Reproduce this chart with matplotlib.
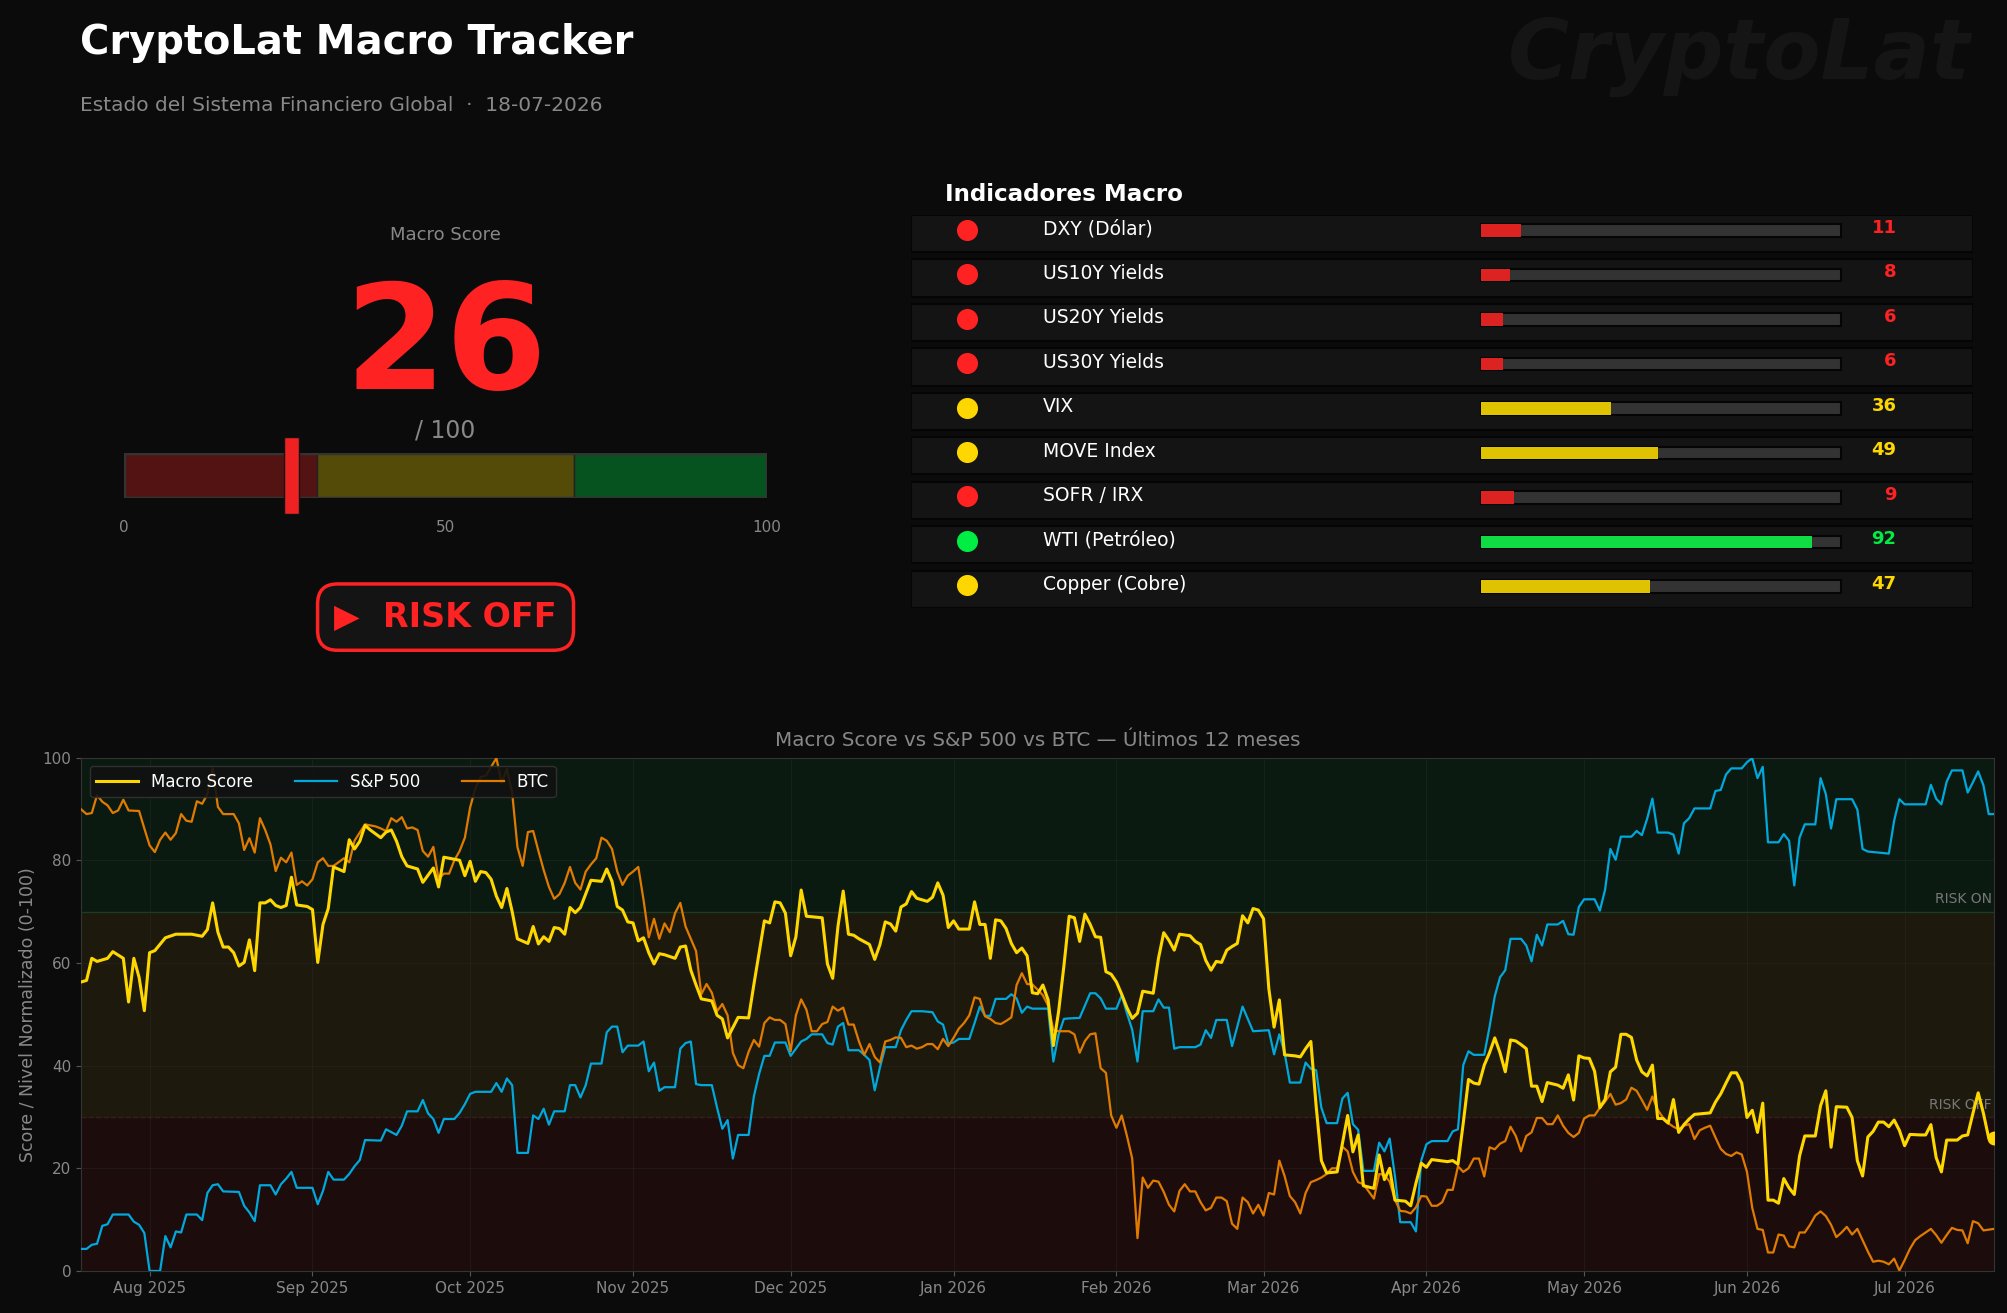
import matplotlib
matplotlib.use('Agg')
import matplotlib.pyplot as plt
import matplotlib.dates as mdates
from matplotlib.patches import Rectangle
import matplotlib.transforms as mtransforms
import pandas as pd

# ---- data ----
start_date = '2025-07-19'
end_date = '2026-07-18'
report_date = '18-07-2026'
macro_score = 26

ind_names = ['DXY (Dólar)', 'US10Y Yields', 'US20Y Yields', 'US30Y Yields', 'VIX',
             'MOVE Index', 'SOFR / IRX', 'WTI (Petróleo)', 'Copper (Cobre)']
ind_values = [11, 8, 6, 6, 36, 49, 9, 92, 47]

# (day since start, value)
macro_pts = [
    (0, 56.3), (1, 56.6), (2, 60.9), (3, 60.3), (5, 60.9), (6, 62.2), (8, 60.9), (9, 52.4), (10, 60.9),
    (11, 57.2), (12, 50.7), (13, 62.0), (14, 62.4), (16, 64.9), (18, 65.6), (21, 65.6), (23, 65.2),
    (24, 66.5), (25, 71.7), (26, 66.0), (27, 63.1), (28, 63.1), (29, 62.0), (30, 59.4), (31, 60.1),
    (32, 64.5), (33, 58.5), (34, 71.7), (35, 71.7), (36, 72.3), (37, 71.2), (38, 70.8), (39, 71.2),
    (40, 76.7), (41, 71.3), (43, 71.0), (44, 70.4), (45, 60.1), (46, 67.5), (47, 70.6), (48, 78.7),
    (50, 77.8), (51, 84.0), (52, 82.2), (53, 83.7), (54, 86.8), (55, 85.9), (57, 84.4), (58, 85.5),
    (59, 85.9), (60, 83.7), (61, 80.7), (62, 78.9), (64, 78.3), (65, 75.7), (67, 78.5), (68, 74.8),
    (69, 80.6), (72, 80.0), (73, 77.0), (74, 79.8), (75, 75.9), (76, 77.8), (77, 77.6), (78, 76.3),
    (79, 73.0), (80, 70.8), (81, 74.5), (82, 70.0), (83, 64.7), (85, 63.8), (86, 67.1), (87, 63.7),
    (88, 65.1), (89, 64.2), (90, 66.9), (91, 66.7), (92, 65.6), (93, 70.8), (94, 69.8), (95, 70.8),
    (97, 76.1), (99, 75.9), (100, 78.3), (101, 75.9), (102, 71.0), (103, 70.3), (104, 68.0), (105, 67.8),
    (106, 64.3), (107, 64.9), (108, 62.0), (109, 59.8), (110, 61.8), (111, 61.6), (113, 60.9), (114, 63.1),
    (115, 63.3), (116, 58.6), (117, 55.7), (118, 53.0), (120, 52.6), (121, 49.8), (122, 49.1), (123, 45.4),
    (125, 49.4), (127, 49.3), (128, 55.8), (130, 68.2), (131, 67.8), (132, 71.9), (133, 71.7), (134, 69.7),
    (135, 61.4), (136, 65.1), (137, 74.2), (138, 69.1), (141, 68.8), (142, 59.8), (143, 57.0), (144, 67.1),
    (145, 74.0), (146, 65.6), (147, 65.4), (148, 64.7), (150, 63.6), (151, 60.7), (152, 63.6), (153, 68.0),
    (154, 67.6), (155, 66.2), (156, 70.9), (157, 71.5), (158, 73.9), (159, 72.6), (161, 72.0), (162, 72.8),
    (163, 75.6), (164, 73.2), (165, 66.9), (166, 68.2), (167, 66.6), (169, 66.6), (170, 71.9), (171, 67.5),
    (172, 67.5), (173, 60.9), (174, 68.4), (175, 68.2), (176, 66.7), (177, 63.8), (178, 62.0), (179, 62.9),
    (180, 61.4), (181, 54.2), (182, 54.0), (183, 55.7), (184, 52.8), (185, 43.9), (186, 50.6), (187, 59.4),
    (188, 69.1), (189, 68.8), (190, 64.2), (191, 69.5), (192, 67.5), (193, 65.1), (194, 65.0), (195, 58.3),
    (196, 57.8), (197, 56.3), (198, 53.9), (199, 51.3), (200, 49.2), (201, 50.2), (202, 54.5), (204, 54.1),
    (205, 60.9), (206, 65.9), (207, 64.4), (208, 62.5), (209, 65.6), (211, 65.3), (212, 64.2), (213, 63.6),
    (214, 60.5), (215, 58.6), (216, 60.3), (217, 60.1), (218, 62.5), (219, 63.2), (220, 63.8), (221, 69.2),
    (222, 67.8), (223, 70.6), (224, 70.3), (225, 68.6), (226, 55.0), (227, 47.5), (228, 52.8), (229, 42.1),
    (231, 41.9), (232, 41.7), (233, 43.3), (234, 44.7), (235, 32.2), (236, 21.5), (237, 19.1), (239, 19.3),
    (240, 24.8), (241, 30.3), (242, 23.2), (243, 26.5), (244, 16.6), (246, 16.1), (247, 22.6), (248, 17.8),
    (249, 20.0), (250, 13.8), (252, 13.6), (253, 12.7), (254, 17.1), (255, 21.0), (256, 20.2), (257, 21.7),
    (260, 21.3), (261, 21.5), (262, 20.8), (263, 28.8), (264, 37.3), (265, 36.6), (266, 36.4), (267, 40.1),
    (268, 42.5), (269, 45.4), (270, 42.5), (271, 38.8), (272, 45.0), (273, 44.8), (274, 44.1), (275, 43.3),
    (276, 36.0), (277, 36.0), (278, 33.0), (279, 36.7), (281, 36.2), (282, 35.6), (283, 38.2), (284, 33.3),
    (285, 41.9), (286, 41.5), (287, 41.4), (288, 38.9), (289, 31.8), (290, 33.4), (291, 38.8), (292, 39.7),
    (293, 46.1), (294, 46.1), (295, 45.5), (296, 41.1), (297, 38.8), (298, 38.0), (299, 40.1), (300, 29.7),
    (301, 29.7), (302, 28.8), (303, 33.4), (304, 27.0), (305, 28.5), (306, 29.6), (307, 30.5), (309, 30.7),
    (310, 30.8), (311, 32.9), (312, 34.5), (313, 36.6), (314, 38.6), (315, 38.6), (316, 36.6), (317, 29.9),
    (318, 31.3), (319, 27.0), (320, 32.7), (321, 13.8), (322, 13.8), (323, 13.2), (324, 18.0), (325, 16.2),
    (326, 14.9), (327, 22.4), (328, 26.3), (330, 26.3), (331, 32.2), (332, 35.1), (333, 24.1), (334, 32.0),
    (336, 31.9), (337, 29.9), (338, 21.5), (339, 18.5), (340, 26.1), (341, 27.2), (342, 29.0), (343, 29.0),
    (344, 28.1), (345, 29.4), (346, 27.4), (347, 24.4), (348, 26.6), (350, 26.5), (351, 26.5), (352, 28.5),
    (353, 22.1), (354, 19.3), (355, 25.5), (357, 25.5), (358, 26.3), (359, 26.5), (360, 30.7), (361, 34.7),
    (362, 30.7), (363, 25.9), (364, 26.0),
]

spx_pts = [
    (0, 4.3), (1, 4.3), (2, 5.1), (3, 5.3), (4, 8.8), (5, 9.1), (6, 11.0), (9, 11.0), (10, 9.6), (11, 9.0),
    (12, 7.4), (13, 0.0), (15, 0.0), (16, 6.8), (17, 4.6), (18, 7.7), (19, 7.5), (20, 11.0), (22, 11.0),
    (23, 9.9), (24, 15.2), (25, 16.7), (26, 16.9), (27, 15.5), (30, 15.4), (31, 12.7), (32, 11.4), (33, 9.7),
    (34, 16.7), (36, 16.7), (37, 14.9), (38, 16.9), (39, 18.0), (40, 19.3), (41, 16.2), (44, 16.2), (45, 13.0),
    (46, 15.6), (47, 19.3), (48, 17.8), (50, 17.8), (51, 18.9), (52, 20.4), (53, 21.6), (54, 25.5), (57, 25.4),
    (58, 27.6), (60, 26.5), (61, 28.3), (62, 31.1), (64, 31.1), (65, 33.3), (66, 30.7), (67, 29.6), (68, 26.9),
    (69, 29.6), (71, 29.6), (72, 30.8), (73, 32.5), (74, 34.5), (75, 34.9), (78, 34.9), (79, 36.6), (80, 34.9),
    (81, 37.5), (82, 36.2), (83, 23.0), (85, 23.0), (86, 30.3), (87, 29.6), (88, 31.6), (89, 28.5), (90, 31.1),
    (92, 31.1), (93, 36.2), (94, 36.2), (95, 33.8), (96, 36.2), (97, 40.4), (99, 40.4), (100, 46.5), (101, 47.6),
    (102, 47.6), (103, 42.6), (104, 43.9), (106, 43.9), (107, 44.7), (108, 38.9), (109, 40.6), (110, 35.1),
    (111, 35.8), (113, 35.8), (114, 43.3), (115, 44.4), (116, 44.7), (117, 36.4), (118, 36.2), (120, 36.2),
    (121, 31.8), (122, 27.7), (123, 29.4), (124, 21.9), (125, 26.5), (127, 26.5), (128, 34.0), (129, 38.4),
    (130, 41.9), (131, 41.9), (132, 44.5), (134, 44.5), (135, 41.9), (137, 44.7), (138, 45.2), (139, 46.1),
    (141, 46.1), (142, 44.4), (143, 44.1), (144, 47.6), (145, 48.3), (146, 43.0), (148, 43.0), (149, 42.1),
    (150, 41.1), (151, 35.2), (152, 39.7), (153, 43.6), (155, 43.6), (156, 46.9), (157, 48.9), (158, 50.6),
    (160, 50.6), (162, 50.4), (163, 48.6), (164, 48.0), (165, 44.3), (166, 44.5), (167, 45.2), (169, 45.2),
    (170, 48.3), (171, 51.5), (172, 49.7), (173, 49.7), (174, 53.0), (176, 53.0), (177, 53.9), (178, 53.1),
    (179, 50.3), (180, 51.5), (181, 51.1), (184, 51.1), (185, 40.8), (186, 46.1), (187, 49.1), (188, 49.2),
    (190, 49.3), (191, 51.7), (192, 54.1), (193, 54.1), (194, 53.1), (195, 51.1), (197, 51.1), (198, 53.7),
    (199, 50.2), (200, 47.0), (201, 40.8), (202, 50.6), (204, 50.6), (205, 52.9), (206, 51.3), (207, 51.3),
    (208, 43.3), (209, 43.6), (212, 43.6), (213, 44.1), (214, 46.9), (215, 45.4), (216, 48.9), (218, 48.9),
    (219, 43.8), (220, 47.6), (221, 51.5), (222, 49.1), (223, 46.7), (226, 46.9), (227, 42.2), (228, 46.1),
    (229, 42.5), (230, 36.7), (232, 36.7), (233, 40.6), (234, 39.4), (235, 39.1), (236, 31.8), (237, 28.8),
    (239, 28.8), (240, 33.6), (241, 34.7), (242, 28.6), (243, 27.5), (244, 19.5), (246, 19.5), (247, 25.0),
    (248, 23.3), (249, 25.8), (250, 18.5), (251, 9.5), (253, 9.5), (254, 7.7), (255, 21.5), (256, 24.7),
    (257, 25.3), (260, 25.3), (261, 27.2), (262, 27.6), (263, 40.1), (264, 42.8), (265, 42.1), (267, 42.1),
    (268, 47.5), (269, 53.5), (270, 57.2), (271, 58.6), (272, 64.7), (274, 64.7), (275, 63.4), (276, 60.3),
    (277, 65.5), (278, 63.4), (279, 67.5), (281, 67.5), (282, 68.2), (283, 65.6), (284, 65.5), (285, 70.9),
    (286, 72.4), (288, 72.4), (289, 70.2), (290, 74.3), (291, 82.2), (292, 80.1), (293, 84.6), (295, 84.6),
    (296, 85.7), (297, 84.9), (298, 88.1), (299, 92.0), (300, 85.4), (302, 85.4), (303, 85.0), (304, 81.3),
    (305, 87.2), (306, 88.2), (307, 90.1), (310, 90.1), (311, 93.5), (312, 93.7), (313, 96.7), (314, 97.9),
    (316, 97.9), (317, 99.1), (318, 99.9), (319, 96.0), (320, 98.2), (321, 83.5), (323, 83.5), (324, 85.1),
    (325, 83.8), (326, 75.1), (327, 84.4), (328, 87.0), (330, 87.0), (331, 96.0), (332, 92.9), (333, 86.2),
    (334, 91.9), (337, 91.9), (338, 89.9), (339, 82.2), (340, 81.7), (342, 81.5), (344, 81.3), (345, 87.7),
    (346, 91.9), (347, 90.9), (351, 90.9), (352, 94.7), (353, 92.0), (354, 90.9), (355, 95.3), (356, 97.5),
    (358, 97.5), (359, 93.2), (360, 95.2), (361, 97.3), (362, 94.6), (363, 89.0), (364, 89.0),
]

btc_pts = [
    (0, 89.9), (1, 89.0), (2, 89.2), (3, 92.7), (4, 91.4), (5, 90.7), (6, 89.2), (7, 89.7), (8, 91.8), (9, 89.7),
    (11, 89.6), (12, 86.2), (13, 82.9), (14, 81.6), (15, 84.0), (16, 85.4), (17, 84.0), (18, 85.3), (19, 89.0),
    (20, 87.7), (21, 87.5), (22, 91.5), (23, 91.0), (24, 92.9), (25, 98.0), (26, 90.4), (27, 89.0), (29, 89.0),
    (30, 87.2), (31, 82.0), (32, 84.3), (33, 81.5), (34, 88.2), (35, 85.9), (36, 83.1), (37, 77.9), (38, 80.5),
    (39, 79.6), (40, 81.5), (41, 75.2), (42, 75.9), (43, 75.1), (44, 76.3), (45, 79.6), (46, 80.4), (47, 78.9),
    (48, 78.9), (50, 80.4), (51, 79.6), (52, 83.8), (54, 87.0), (56, 86.6), (57, 86.2), (58, 85.7), (59, 88.2),
    (60, 87.5), (61, 88.4), (62, 86.2), (63, 86.4), (64, 85.9), (65, 81.8), (66, 80.7), (67, 82.6), (68, 76.3),
    (69, 77.4), (70, 77.4), (71, 80.0), (72, 81.8), (73, 84.4), (74, 90.3), (75, 94.0), (76, 96.2), (77, 96.5),
    (79, 99.9), (80, 95.1), (81, 97.8), (82, 93.2), (83, 82.6), (84, 78.9), (85, 85.5), (86, 85.7), (87, 81.8),
    (88, 78.1), (89, 74.8), (90, 72.5), (91, 73.4), (92, 75.6), (93, 78.7), (94, 75.6), (95, 74.3), (96, 77.8),
    (97, 79.2), (98, 80.4), (99, 84.4), (100, 83.8), (101, 82.2), (102, 77.8), (103, 75.2), (104, 77.0),
    (105, 77.8), (106, 78.7), (107, 72.3), (108, 65.0), (109, 68.6), (110, 64.7), (111, 67.7), (112, 66.0),
    (113, 69.7), (114, 71.7), (115, 67.1), (116, 64.7), (117, 62.3), (118, 53.9), (119, 55.9), (120, 54.2),
    (121, 50.6), (122, 52.0), (123, 49.8), (124, 42.5), (125, 40.1), (126, 39.5), (127, 42.7), (128, 45.0),
    (129, 43.7), (130, 48.3), (131, 49.4), (132, 48.9), (133, 48.9), (134, 48.1), (135, 42.8), (136, 49.8),
    (137, 52.9), (138, 50.9), (139, 46.7), (140, 46.7), (141, 48.1), (142, 48.5), (143, 51.5), (144, 50.7),
    (145, 51.3), (146, 48.0), (147, 48.0), (148, 44.7), (149, 42.1), (150, 44.2), (151, 41.7), (152, 40.6),
    (153, 44.7), (154, 45.0), (155, 45.5), (156, 45.4), (157, 43.6), (158, 43.9), (159, 43.3), (160, 43.6),
    (161, 44.2), (162, 44.2), (163, 43.2), (164, 45.2), (165, 43.8), (166, 45.4), (167, 47.2), (168, 48.3),
    (169, 49.8), (170, 53.3), (171, 53.0), (172, 49.6), (173, 49.1), (174, 48.3), (175, 48.1), (176, 48.7),
    (177, 49.4), (178, 55.7), (179, 58.0), (180, 55.9), (181, 55.8), (182, 54.8), (183, 53.7), (184, 51.7),
    (185, 46.9), (186, 46.7), (188, 46.7), (189, 46.1), (190, 42.5), (191, 44.8), (192, 46.1), (193, 46.3),
    (194, 39.5), (195, 38.6), (196, 30.3), (197, 27.9), (198, 30.3), (199, 26.3), (200, 21.9), (201, 6.4),
    (202, 18.2), (203, 16.2), (204, 17.6), (205, 17.4), (206, 15.4), (207, 12.9), (208, 11.6), (209, 15.6),
    (210, 16.9), (211, 15.5), (212, 15.5), (213, 13.4), (214, 11.8), (215, 12.3), (216, 14.3), (217, 14.3),
    (218, 13.6), (219, 9.2), (220, 8.2), (221, 14.3), (222, 13.4), (223, 11.2), (224, 12.9), (225, 10.8),
    (226, 15.2), (227, 14.9), (228, 21.5), (229, 18.5), (230, 14.6), (231, 13.4), (232, 11.2), (233, 15.2),
    (234, 17.3), (235, 17.7), (236, 18.2), (237, 18.9), (238, 20.0), (239, 20.0), (240, 24.2), (241, 23.3),
    (242, 19.3), (243, 17.3), (244, 16.9), (245, 15.5), (246, 14.1), (247, 18.9), (248, 18.7), (249, 17.4),
    (250, 13.9), (251, 11.7), (252, 11.6), (253, 11.2), (254, 12.4), (255, 14.6), (256, 14.5), (257, 12.7),
    (258, 12.7), (259, 13.4), (260, 15.8), (261, 15.8), (262, 20.4), (263, 19.3), (264, 20.0), (265, 21.9),
    (266, 21.9), (267, 18.4), (268, 24.1), (269, 23.7), (270, 24.8), (271, 25.3), (272, 28.1), (273, 26.3),
    (274, 23.3), (275, 26.3), (276, 27.0), (277, 29.8), (278, 29.8), (279, 28.6), (280, 28.6), (281, 30.3),
    (282, 28.3), (283, 26.9), (284, 26.1), (285, 26.9), (286, 29.7), (287, 30.3), (288, 30.3), (289, 31.8),
    (290, 33.0), (291, 34.5), (292, 32.4), (293, 32.7), (294, 33.4), (295, 35.7), (296, 35.1), (297, 33.3),
    (298, 31.4), (299, 34.0), (300, 31.4), (301, 29.9), (302, 28.8), (303, 28.1), (304, 27.6), (305, 28.3),
    (306, 28.6), (307, 25.7), (308, 27.4), (309, 27.9), (310, 28.3), (311, 26.0), (312, 23.8), (313, 22.8),
    (314, 22.4), (315, 23.1), (316, 22.7), (317, 19.3), (318, 12.3), (319, 8.2), (320, 8.0), (321, 3.6),
    (322, 3.6), (323, 7.1), (324, 6.9), (325, 4.8), (326, 4.6), (327, 7.5), (328, 7.5), (329, 9.0), (330, 10.8),
    (331, 11.6), (332, 10.7), (333, 9.0), (334, 6.6), (335, 7.5), (336, 8.6), (337, 7.1), (338, 8.2), (339, 6.0),
    (340, 3.8), (341, 1.8), (342, 2.0), (343, 1.8), (344, 1.3), (345, 2.4), (346, 0.1), (347, 2.1), (348, 4.3),
    (349, 6.0), (350, 6.8), (351, 7.5), (352, 8.2), (353, 7.0), (354, 5.5), (355, 7.0), (356, 8.4), (357, 8.0),
    (358, 7.9), (359, 5.4), (360, 9.7), (361, 9.3), (362, 7.9), (364, 8.2),
]

BG = '#0b0b0b'
GRAY = '#888888'
RED = '#ff2222'
YEL = '#ffd700'
GRN = '#00ee44'


def zone_color(v):
    if v < 30:
        return RED
    if v < 70:
        return YEL
    return GRN


def to_series(pts):
    days, vals = zip(*pts)
    dates = pd.Timestamp(start_date) + pd.to_timedelta(list(days), unit='D')
    return dates, list(vals)


fig = plt.figure(figsize=(20.07, 13.13), dpi=100, facecolor=BG)

# header
fig.text(0.040, 0.967, 'CryptoLat Macro Tracker', fontsize=28.8, fontweight='bold', color='white', va='center')
fig.text(0.040, 0.920, 'Estado del Sistema Financiero Global  \u00b7  ' + report_date,
         fontsize=14.5, color=GRAY, va='center')
fig.text(0.982, 0.957, 'CryptoLat', fontsize=60, fontweight='bold', style='italic',
         color='#151515', ha='right', va='center')

# gauge block
fig.text(0.222, 0.821, 'Macro Score', fontsize=13, color=GRAY, ha='center', va='center')
fig.text(0.222, 0.704, str(macro_score), fontsize=105, fontweight='bold', color=RED,
         ha='center', va='baseline')
fig.text(0.222, 0.667, '/ 100', fontsize=17, color=GRAY, ha='center', va='baseline')

ax_g = fig.add_axes([0.0619, 0.621, 0.3202, 0.034])
ax_g.set_xlim(0, 100)
ax_g.set_ylim(0, 1)
ax_g.axis('off')
for x0, w, c in [(0, 30, '#531313'), (30, 40, '#534b07'), (70, 30, '#07531f')]:
    ax_g.add_patch(Rectangle((x0, 0), w, 1, fc=c, ec='#222222', lw=1))
ax_g.add_patch(Rectangle((0, 0), 100, 1, fill=False, ec='#333333', lw=2.5))
ax_g.add_patch(Rectangle((macro_score - 1.2, -0.36), 2.4, 1.72, fc='#ee2222', ec='#111111',
                         lw=1, clip_on=False, zorder=5))
for v in [0, 50, 100]:
    ax_g.text(v, -0.68, str(v), ha='center', va='center', fontsize=11, color=GRAY)

fig.text(0.222, 0.530, '\u25b6  RISK OFF', fontsize=24, fontweight='bold', color=RED,
         ha='center', va='center',
         bbox=dict(boxstyle='round,pad=0.5,rounding_size=0.6', fc='#141414', ec=RED, lw=2.5))

# indicator table
fig.text(0.4707, 0.852, 'Indicadores Macro', fontsize=16.6, fontweight='bold', color='white', va='center')
ax_t = fig.add_axes([0.454, 0.537, 0.529, 0.2993])
ax_t.set_xlim(0, 1)
ax_t.set_ylim(8.836, 0)
ax_t.axis('off')
for i, (name, v) in enumerate(zip(ind_names, ind_values)):
    c = zone_color(v)
    ax_t.add_patch(Rectangle((0, i), 1, 0.836, fc='#141414', ec='#050505', lw=1.5))
    ax_t.scatter([0.053], [i + 0.33], s=200, color=c, zorder=3)
    ax_t.text(0.124, i + 0.31, name, fontsize=13.5, color='white', va='center')
    ax_t.add_patch(Rectangle((0.537, i + 0.21), 0.339, 0.28, fc='#333333', ec='#050505', lw=1.5))
    fill_c = {RED: '#dd2222', YEL: '#dfc300', GRN: '#10dd44'}[c]
    ax_t.add_patch(Rectangle((0.537, i + 0.21), 0.339 * v / 100, 0.28, fc=fill_c, ec='none', zorder=3))
    ax_t.text(0.928, i + 0.29, str(v), ha='right', va='center', fontsize=13, fontweight='bold', color=c)

# history chart
ax = fig.add_axes([0.0405, 0.032, 0.953, 0.391])
ax.set_facecolor(BG)
ax.axhspan(0, 30, color='#1c0c0c', zorder=0)
ax.axhspan(30, 70, color='#1d1a0d', zorder=0)
ax.axhspan(70, 100, color='#0b1a11', zorder=0)
ax.axhline(70, color='#1f3a22', lw=1, zorder=0.6)
ax.axhline(30, color='#3a1c1c', lw=1, ls='--', zorder=0.6)
trans = mtransforms.blended_transform_factory(ax.transAxes, ax.transData)
ax.text(0.999, 71, 'RISK ON', transform=trans, ha='right', va='bottom', fontsize=10, color='#777777')
ax.text(0.999, 31, 'RISK OFF', transform=trans, ha='right', va='bottom', fontsize=10, color='#777777')

md, mv = to_series(macro_pts)
sd, sv = to_series(spx_pts)
bd, bv = to_series(btc_pts)
ax.plot(md, mv, color=YEL, lw=2.2, label='Macro Score', zorder=4)
ax.plot(sd, sv, color='#00a8dc', lw=1.6, label='S&P 500', zorder=3)
ax.plot(bd, bv, color='#e07b00', lw=1.6, label='BTC', zorder=3)
ax.plot([md[-1]], [mv[-1]], 'o', color=YEL, ms=9, zorder=5)

ax.set_xlim(pd.Timestamp(start_date), pd.Timestamp(end_date))
ax.set_ylim(0, 100)
ax.set_yticks([0, 20, 40, 60, 80, 100])
ax.xaxis.set_major_locator(mdates.MonthLocator())
ax.xaxis.set_major_formatter(mdates.DateFormatter('%b %Y'))
ax.grid(True, color='#2a2a2a', lw=0.6, alpha=0.5, zorder=0.5)
ax.tick_params(colors='#555555', labelcolor=GRAY, labelsize=11)
for s in ax.spines.values():
    s.set_color('#333333')
ax.set_ylabel('Score / Nivel Normalizado (0-100)', color=GRAY, fontsize=12.5)
ax.set_title('Macro Score vs S&P 500 vs BTC \u2014 \u00daltimos 12 meses', color=GRAY, fontsize=14.3, pad=8)
leg = ax.legend(loc='upper left', ncol=3, fontsize=12, facecolor='#111111', edgecolor='#333333',
                labelcolor='white', framealpha=0.9, handlelength=2.5, columnspacing=2.5)

fig.savefig('out.png', dpi=100, facecolor=BG)
